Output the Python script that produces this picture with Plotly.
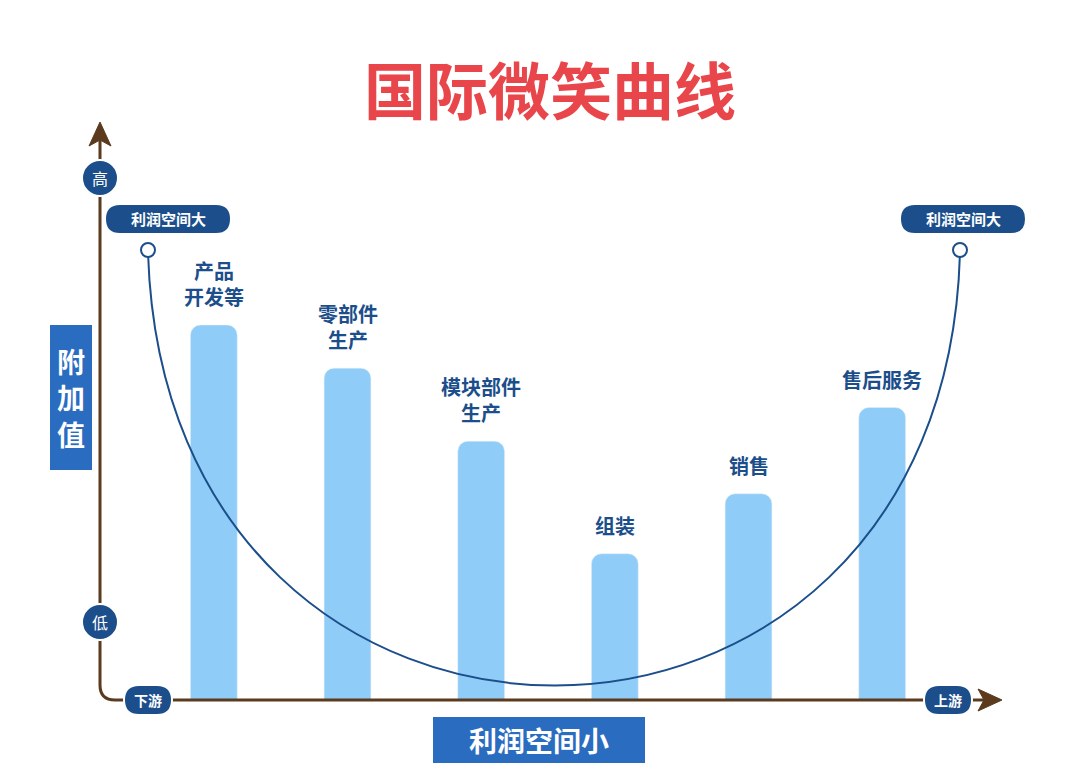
import plotly.graph_objects as go

categories = ["产品开发等", "零部件生产", "模块部件生产", "组装", "销售", "售后服务"]
bar_labels = ["产品<br>开发等", "零部件<br>生产", "模块部件<br>生产", "组装", "销售", "售后服务"]
values = [100, 88.5, 69, 39, 55, 78]

W, H = 1080, 774
OX, OY = 8, 8  # page body offset
DARK = "#1b4e8a"
BROWN = "#5b3a1e"
BAR = "#8fcdf8"
FONT = "Noto Sans CJK SC"

def px(x, y):
    return (x - OX) / W, 1 - (y - OY) / H

fig = go.Figure(go.Bar(x=categories, y=values, marker_color=BAR, width=0.35))

shapes = []
annotations = []

def label(x, y, text, size, color="white"):
    ax, ay = px(x, y)
    annotations.append(dict(x=ax, y=ay, xref="paper", yref="paper", text=text, showarrow=False,
                            xanchor="center", yanchor="middle",
                            font=dict(color=color, size=size, family=FONT)))

# axes with arrows
shapes.append(dict(type="path", xref="paper", yref="paper",
                   path="M {},{} L {},{} Q {},{} {},{} L {},{}".format(
                       *px(100, 135), *px(100, 685), *px(100, 700), *px(115, 700), *px(990, 700)),
                   line=dict(color=BROWN, width=3)))
shapes.append(dict(type="path", xref="paper", yref="paper",
                   path="M {},{} L {},{} L {},{} L {},{} Z".format(
                       *px(100, 122), *px(89, 146), *px(100, 140), *px(111, 146)),
                   fillcolor=BROWN, line=dict(color=BROWN, width=1)))
shapes.append(dict(type="path", xref="paper", yref="paper",
                   path="M {},{} L {},{} L {},{} L {},{} Z".format(
                       *px(1002, 700), *px(978, 689), *px(984, 700), *px(978, 711)),
                   fillcolor=BROWN, line=dict(color=BROWN, width=1)))

# smile curve
shapes.append(dict(type="path", xref="paper", yref="paper",
                   path="M {},{} C {},{} {},{} {},{}".format(
                       *px(148, 252), *px(165, 830), *px(945, 830), *px(960, 252)),
                   line=dict(color=DARK, width=2)))
for cx in (148, 960):
    x0, y0 = px(cx - 7, 243); x1, y1 = px(cx + 7, 257)
    shapes.append(dict(type="circle", xref="paper", yref="paper", x0=x0, y0=y1, x1=x1, y1=y0,
                       fillcolor="white", line=dict(color=DARK, width=2)))

# high/low circles
for cy, t in ((178, "高"), (622, "低")):
    x0, y0 = px(82, cy - 18); x1, y1 = px(118, cy + 18)
    shapes.append(dict(type="circle", xref="paper", yref="paper", x0=x0, y0=y1, x1=x1, y1=y0,
                       fillcolor=DARK, line=dict(color="white", width=2)))
    label(100, cy, t, 16)

def pill(cx, cy, w, h, text, size, color=DARK):
    r = h / 2
    x0, x1 = cx - w / 2, cx + w / 2
    path = "M {},{} L {},{} Q {},{} {},{} Q {},{} {},{} L {},{} Q {},{} {},{} Q {},{} {},{} Z".format(
        *px(x0 + r, cy - r), *px(x1 - r, cy - r), *px(x1, cy - r), *px(x1, cy),
        *px(x1, cy + r), *px(x1 - r, cy + r), *px(x0 + r, cy + r),
        *px(x0, cy + r), *px(x0, cy), *px(x0, cy - r), *px(x0 + r, cy - r))
    shapes.append(dict(type="path", xref="paper", yref="paper", path=path,
                       fillcolor=color, line=dict(color="white", width=2)))
    label(cx, cy, f"<b>{text}</b>", size)

pill(168, 219, 126, 30, "利润空间大", 15)
pill(963, 219, 126, 30, "利润空间大", 15)
pill(148, 700, 48, 30, "下游", 14)
pill(948, 700, 48, 30, "上游", 14)

# 附加值 box
x0, y0 = px(50, 325); x1, y1 = px(92, 470)
shapes.append(dict(type="rect", xref="paper", yref="paper", x0=x0, y0=y1, x1=x1, y1=y0,
                   fillcolor="#2a6cc0", line=dict(color="#2a6cc0", width=0)))
label(71, 397, "<b>附<br>加<br>值</b>", 28)
# 利润空间小 box
x0, y0 = px(433, 717); x1, y1 = px(645, 763)
shapes.append(dict(type="rect", xref="paper", yref="paper", x0=x0, y0=y1, x1=x1, y1=y0,
                   fillcolor="#2a6cc0", line=dict(color="#2a6cc0", width=0)))
label(539, 740, "<b>利润空间小</b>", 28)

# title
label(550, 88, "<b>国际微笑曲线</b>", 62, "#e8464b")

# bar labels
for c, lab, v in zip(categories, bar_labels, values):
    annotations.append(dict(x=c, y=v, text=f"<b>{lab}</b>", showarrow=False, yanchor="bottom",
                            xanchor="center", yshift=12, font=dict(color=DARK, size=20, family=FONT)))

fig.update_layout(
    width=W, height=H, margin=dict(l=0, r=0, t=0, b=0),
    paper_bgcolor="white", plot_bgcolor="rgba(0,0,0,0)",
    barcornerradius=10, showlegend=False,
    xaxis=dict(domain=[(147 - OX) / W, (949 - OX) / W], range=[-0.5, 5.5], showticklabels=False,
               showgrid=False, zeroline=False, showline=False),
    yaxis=dict(domain=[(H - 700 + OY) / H, (H - 325 + OY) / H], range=[0, 100], showticklabels=False,
               showgrid=False, zeroline=False, showline=False),
    shapes=shapes, annotations=annotations,
)
fig.write_html("out.html")
